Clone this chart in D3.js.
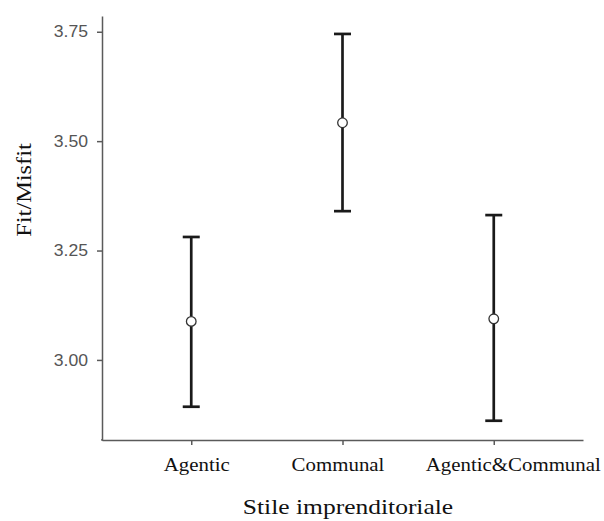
<!DOCTYPE html>
<html>
<head>
<meta charset="utf-8">
<script src="https://cdn.jsdelivr.net/npm/d3@7"></script>
<style>
  html, body { margin: 0; padding: 0; background: #fff; }
  svg { display: block; }
</style>
</head>
<body>
<svg id="chart" width="604" height="521"></svg>
<script>
// Estimated marginal means of Fit/Misfit by entrepreneurial style, with 95% CI
const categories = ["Agentic", "Communal", "Agentic&Communal"];
const means = [3.088, 3.542, 3.094];
const lower = [2.893, 3.340, 2.861];
const upper = [3.281, 3.745, 3.331];
const yTicks = [3.00, 3.25, 3.50, 3.75];

const svg = d3.select("#chart");
const plotLeft = 102, plotRight = 583, plotTop = 16, plotBottom = 440;
const stretch = 1.16;   // text is set slightly wide
const serif = "'Liberation Serif', 'Times New Roman', serif";

const x = d3.scalePoint().domain(categories).range([plotLeft, plotRight]).padding(0.59);
const y = d3.scaleLinear().domain([2.817, 3.786]).range([plotBottom, plotTop]);

const axisColor = "#5a5a5a";

// y axis
const yAxis = svg.append("g")
  .attr("transform", `translate(${plotLeft},0)`)
  .call(d3.axisLeft(y).tickValues(yTicks).tickFormat(d3.format(".2f")).tickSize(5).tickSizeOuter(0));
yAxis.select(".domain").attr("stroke", axisColor).attr("stroke-width", 1.5);
yAxis.selectAll(".tick line").attr("stroke", axisColor).attr("stroke-width", 1.5);
yAxis.selectAll(".tick text")
  .attr("x", -14 / 1.1)
  .attr("transform", "scale(1.1,1)")
  .attr("fill", "#555")
  .style("font-family", "'Liberation Sans', Arial, sans-serif")
  .style("font-size", "16px");

// x axis
const labelShift = [5, -5, 19];
const xAxis = svg.append("g")
  .attr("transform", `translate(0,${plotBottom})`)
  .call(d3.axisBottom(x).tickSize(5).tickPadding(13).tickSizeOuter(0));
xAxis.select(".domain").attr("stroke", axisColor).attr("stroke-width", 1.5);
xAxis.selectAll(".tick line").attr("stroke", axisColor).attr("stroke-width", 1.5);
xAxis.selectAll(".tick text")
  .attr("x", (d, i) => labelShift[i] / stretch)
  .attr("transform", `scale(${stretch},1)`)
  .attr("fill", "#111")
  .style("font-family", serif)
  .style("font-size", "18px");

// join the two axis lines at the corner
svg.append("path")
  .attr("d", `M${plotLeft},${plotBottom - 1}V${plotBottom}H${plotLeft + 1}`)
  .attr("fill", "none").attr("stroke", axisColor).attr("stroke-width", 1.5);

// error bars
const capHalf = 8.5;
const g = svg.append("g");
categories.forEach((c, i) => {
  const cx = x(c);
  g.append("line")
    .attr("x1", cx).attr("x2", cx)
    .attr("y1", y(lower[i])).attr("y2", y(upper[i]))
    .attr("stroke", "#1a1a1a").attr("stroke-width", 2.7);
  [lower[i], upper[i]].forEach(v => {
    g.append("line")
      .attr("x1", cx - capHalf).attr("x2", cx + capHalf)
      .attr("y1", y(v)).attr("y2", y(v))
      .attr("stroke", "#1a1a1a").attr("stroke-width", 2.7);
  });
  g.append("circle")
    .attr("cx", cx).attr("cy", y(means[i]))
    .attr("r", 4.8)
    .attr("fill", "#fff").attr("stroke", "#333").attr("stroke-width", 1.3);
});

// axis titles
svg.append("text")
  .attr("transform", `translate(348,514) scale(${stretch},1)`)
  .attr("text-anchor", "middle")
  .style("font-family", serif)
  .style("font-size", "22px")
  .attr("fill", "#111")
  .text("Stile imprenditoriale");

svg.append("text")
  .attr("transform", `translate(31,190) rotate(-90) scale(${stretch},1)`)
  .attr("text-anchor", "middle")
  .style("font-family", serif)
  .style("font-size", "21px")
  .attr("fill", "#111")
  .text("Fit/Misfit");
</script>
</body>
</html>
